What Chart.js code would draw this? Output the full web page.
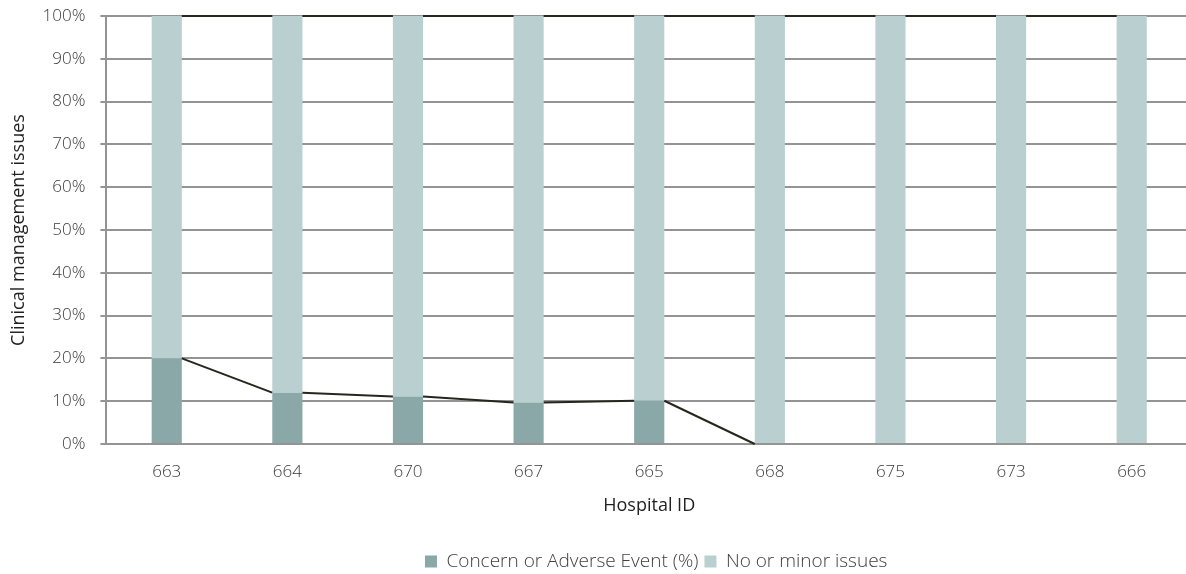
<!DOCTYPE html>
<html>
<head>
  <title>Clinical management issues</title>
  <script src="https://cdn.jsdelivr.net/npm/chart.js"></script>
  <style>
    html, body { margin: 0; padding: 0; background: #fff; overflow: hidden; }
    #wrap { width: 1192px; height: 574px; }
  </style>
</head>
<body>
  <div id="wrap">
    <canvas id="hospitalChart"></canvas>
  </div>

  <script>
    const hospitals = ['663', '664', '670', '667', '665', '668', '675', '673', '666'];
    const concern = [20, 12, 11.1, 9.7, 10.1, 0, 0, 0, 0];
    const noIssues = [80, 88, 88.9, 90.3, 89.9, 100, 100, 100, 100];
    const yTicks = [0, 10, 20, 30, 40, 50, 60, 70, 80, 90, 100];

    // Excel-style series lines: join the top of each stacked segment to the next bar
    const seriesLines = {
      id: 'seriesLines',
      afterDatasetsDraw(chart) {
        const ctx = chart.ctx;
        ctx.save();
        ctx.strokeStyle = '#27261e';
        ctx.lineWidth = 2;
        chart.data.datasets.forEach((ds, d) => {
          const bars = chart.getDatasetMeta(d).data;
          for (let i = 0; i < bars.length - 1; i++) {
            if (ds.data[i] === 0 && ds.data[i + 1] === 0) continue;
            const a = bars[i], b = bars[i + 1];
            ctx.beginPath();
            ctx.moveTo(a.x + a.width / 2, a.y);
            ctx.lineTo(b.x - b.width / 2, b.y);
            ctx.stroke();
          }
        });
        ctx.restore();
      }
    };

    // short outside tick marks on the y axis
    const yTickMarks = {
      id: 'yTickMarks',
      afterDraw(chart) {
        const y = chart.scales.y;
        const ctx = chart.ctx;
        ctx.save();
        ctx.strokeStyle = '#949494';
        ctx.lineWidth = 2;
        yTicks.forEach(v => {
          const py = Math.round(y.getPixelForValue(v));
          ctx.beginPath();
          ctx.moveTo(y.right - 6, py);
          ctx.lineTo(y.right, py);
          ctx.stroke();
        });
        ctx.restore();
      }
    };

    // nudge legend a bit right, like the original
    const legendShift = {
      id: 'legendShift',
      afterLayout(chart) {
        if (chart.legend) {
          chart.legend.left += 7;
          chart.legend.right += 7;
        }
      }
    };

    const ctx = document.getElementById('hospitalChart').getContext('2d');
    new Chart(ctx, {
      type: 'bar',
      data: {
        labels: hospitals,
        datasets: [
          {
            label: 'Concern or Adverse Event (%)',
            data: concern,
            backgroundColor: '#8aa8a8',
            barPercentage: 0.5,
            categoryPercentage: 0.5
          },
          {
            label: 'No or minor issues',
            data: noIssues,
            backgroundColor: '#bacfd0',
            barPercentage: 0.5,
            categoryPercentage: 0.5
          }
        ]
      },
      options: {
        responsive: true,
        maintainAspectRatio: false,
        animation: false,
        layout: { padding: { top: 16, left: 2, right: 0, bottom: -7 } },
        plugins: {
          legend: {
            position: 'bottom',
            fullSize: false,
            labels: {
              boxWidth: 12,
              boxHeight: 12,
              padding: 6,
              color: '#404040',
              font: { family: 'Open Sans', size: 19, weight: 300 }
            }
          },
          tooltip: { enabled: false }
        },
        scales: {
          x: {
            stacked: true,
            grid: { display: false },
            border: { display: true, color: '#949494', width: 2 },
            ticks: {
              color: '#3a3a3a',
              padding: 10,
              font: { family: 'Open Sans', size: 17, weight: 300 }
            },
            title: {
              display: true,
              text: 'Hospital ID',
              color: '#1f1f1f',
              padding: { top: 3, bottom: 29 },
              font: { family: 'Open Sans', size: 18 }
            }
          },
          y: {
            stacked: true,
            min: 0,
            max: 100,
            afterBuildTicks: axis => { axis.ticks = yTicks.map(v => ({ value: v })); },
            grid: { color: '#949494', lineWidth: 2, tickLength: 21, tickColor: 'rgba(0,0,0,0)' },
            border: { display: true, color: '#949494', width: 2 },
            ticks: {
              color: '#3a3a3a',
              padding: 0,
              callback: v => v + '%',
              font: { family: 'Open Sans', size: 17, weight: 300 }
            },
            title: {
              display: true,
              text: 'Clinical management issues',
              color: '#1f1f1f',
              padding: { top: 6, bottom: 13 },
              font: { family: 'Open Sans', size: 18 }
            }
          }
        }
      },
      plugins: [seriesLines, yTickMarks, legendShift]
    });
  </script>
</body>
</html>
